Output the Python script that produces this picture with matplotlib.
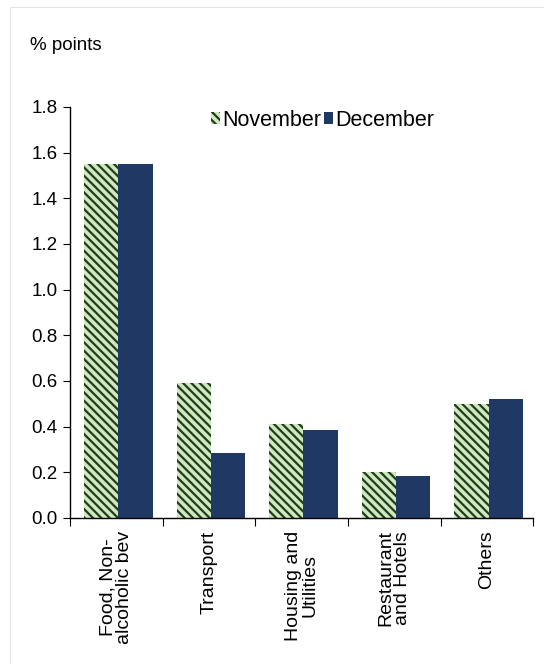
import matplotlib.pyplot as plt
import numpy as np
from matplotlib.patches import Rectangle

plt.rcParams['font.family'] = ['Liberation Sans', 'DejaVu Sans']
plt.rcParams['hatch.linewidth'] = 1.6

categories = ['Food, Non-\nalcoholic bev', 'Transport', 'Housing and\nUtilities',
              'Restaurant\nand Hotels', 'Others']
november = [1.55, 0.59, 0.41, 0.20, 0.50]
december = [1.55, 0.285, 0.385, 0.185, 0.52]
yticks = [0.0, 0.2, 0.4, 0.6, 0.8, 1.0, 1.2, 1.4, 1.6, 1.8]

fig = plt.figure(figsize=(5.44, 6.64), dpi=100)
fig.patches.append(Rectangle((0.018, -0.01), 1.0, 1.0, transform=fig.transFigure,
                             fill=False, edgecolor='#e4e4e4', linewidth=0.8))
ax = fig.add_axes([0.129, 0.22, 0.851, 0.619])

x = np.arange(len(categories))
w = 0.37
ax.bar(x - w / 2 + 0.02, november, w, color='#cfe8bd', edgecolor='#1f3d1f',
       hatch='\\\\\\\\', linewidth=0, label='November')
ax.bar(x + w / 2 + 0.02, december, w, color='#1f3864', linewidth=0, label='December')

ax.set_xlim(-0.5, len(categories) - 0.5)
ax.set_ylim(0, 1.8)
ax.set_yticks(yticks)
ax.set_yticklabels([f'{v:.1f}' for v in yticks], fontsize=13.5)
ax.set_xticks(np.arange(len(categories) + 1) - 0.5)
ax.set_xticklabels([])
ax.set_xticks(x, minor=True)
ax.set_xticklabels(categories, minor=True, rotation=90, fontsize=14,
                   va='top', ha='center', linespacing=0.95)
ax.tick_params(axis='x', which='minor', length=0, pad=9)
ax.tick_params(axis='x', which='major', length=6, direction='out')
ax.tick_params(axis='y', length=5, direction='out', pad=4)

for s in ['top', 'right']:
    ax.spines[s].set_visible(False)
ax.spines['left'].set_linewidth(1.0)
ax.spines['bottom'].set_linewidth(1.0)

ax.legend(loc='upper center', bbox_to_anchor=(0.545, 1.04), ncol=2, frameon=False,
          fontsize=15.5, handlelength=0.45, handleheight=0.45, handletextpad=0.1,
          columnspacing=0.1)

fig.text(0.055, 0.925, '% points', fontsize=13.5)

fig.savefig('out.png', dpi=100)
